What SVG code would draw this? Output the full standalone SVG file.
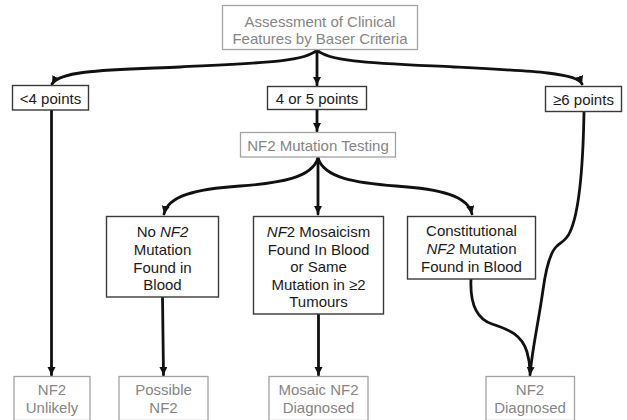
<svg xmlns="http://www.w3.org/2000/svg" width="627" height="420" viewBox="0 0 627 420">
<defs>
<marker id="ah" markerUnits="userSpaceOnUse" markerWidth="9" markerHeight="9" refX="8" refY="4" orient="auto">
<path d="M0,0 L8,4 L0,8 Z" fill="#111"/>
</marker>
<style>
text{font-family:"Liberation Sans",Arial,sans-serif;font-size:15px;text-anchor:middle}
.g rect{fill:#fff;stroke:#a3a3a3;stroke-width:1.3}
.g text{fill:#858585}
.b rect{fill:#fff;stroke:#3a3a3a;stroke-width:1.4}
.b text{fill:#1a1a1a}
#connectors path{fill:none;stroke:#111;stroke-width:2.8;stroke-linecap:round}
.a{marker-end:url(#ah)}
</style>
</defs>
<rect width="627" height="420" fill="#fff"/>
<g id="connectors">
<path class="a" d="M317,50 C305,62 260,63 180,67 C110,70 60,70 52,84"/>
<path class="a" d="M317,50 L317,85"/>
<path class="a" d="M317,50 C329,62 374,63 454,67 C534,71 578,73 582,84"/>
<path class="a" d="M317,110 L317,131"/>
<path class="a" d="M318,158 C312,178 280,183 240,186 C195,189 168,196 164,214"/>
<path class="a" d="M318,158 L318,214"/>
<path class="a" d="M318,158 C324,178 356,183 396,186 C441,189 468,196 472,214"/>
<path class="a" d="M51.5,110 L51.5,375"/>
<path class="a" d="M162.5,297 L163.5,375"/>
<path class="a" d="M318.5,314 L318.5,375"/>
<path d="M471,279 C470,300 474,318 492,324 C510,330 522,335 527,352 C530,362 530,368 530,372"/>
<path class="a" d="M584,112 C583,170 578,215 570,232 C566,241 561,242 557,246 C550,252 546,268 543,290 C538,325 532,350 530,375"/>
</g>
<g id="assessment" class="g">
<rect x="222.5" y="5.5" width="195" height="44"/>
<text x="320" y="27">Assessment of Clinical</text>
<text x="320" y="43.5">Features by Baser Criteria</text>
</g>
<g id="lt4" class="b">
<rect x="12.5" y="85.5" width="76" height="24.5"/>
<text x="50.5" y="103.5">&lt;4 points</text>
</g>
<g id="p45" class="b">
<rect x="267.5" y="86.5" width="99" height="23"/>
<text x="317" y="103.5">4 or 5 points</text>
</g>
<g id="ge6" class="b">
<rect x="545.5" y="86.5" width="76" height="25"/>
<text x="583.5" y="104.5">≥6 points</text>
</g>
<g id="testing" class="g">
<rect x="240.5" y="132.5" width="155" height="24.5"/>
<text x="318" y="151">NF2 Mutation Testing</text>
</g>
<g id="nomut" class="b">
<rect x="106.5" y="216.5" width="112" height="80.5"/>
<text x="162.5" y="237">No <tspan font-style="italic">NF2</tspan></text>
<text x="162.5" y="255">Mutation</text>
<text x="162.5" y="272.5">Found in</text>
<text x="162.5" y="290">Blood</text>
</g>
<g id="mosaicism" class="b">
<rect x="253.5" y="216.5" width="130" height="97.5"/>
<text x="318.5" y="237"><tspan font-style="italic">NF</tspan>2 Mosaicism</text>
<text x="318.5" y="255">Found In Blood</text>
<text x="318.5" y="272">or Same</text>
<text x="318.5" y="289.5">Mutation in ≥2</text>
<text x="318.5" y="307">Tumours</text>
</g>
<g id="constitutional" class="b">
<rect x="407.5" y="216.5" width="128" height="62.5"/>
<text x="471.5" y="235.7">Constitutional</text>
<text x="471.5" y="253.5"><tspan font-style="italic">NF2</tspan> Mutation</text>
<text x="471.5" y="271.5">Found in Blood</text>
</g>
<g id="unlikely" class="g">
<rect x="14" y="376.5" width="76" height="44"/>
<text x="52" y="395">NF2</text>
<text x="52" y="413">Unlikely</text>
</g>
<g id="possible" class="g">
<rect x="119" y="376.5" width="89" height="44"/>
<text x="163.5" y="395">Possible</text>
<text x="163.5" y="413">NF2</text>
</g>
<g id="mosaic" class="g">
<rect x="269" y="376.5" width="99" height="44"/>
<text x="318.5" y="395">Mosaic NF2</text>
<text x="318.5" y="413">Diagnosed</text>
</g>
<g id="diagnosed" class="g">
<rect x="486" y="376.5" width="88.5" height="44"/>
<text x="530" y="395">NF2</text>
<text x="530" y="413">Diagnosed</text>
</g>
</svg>
